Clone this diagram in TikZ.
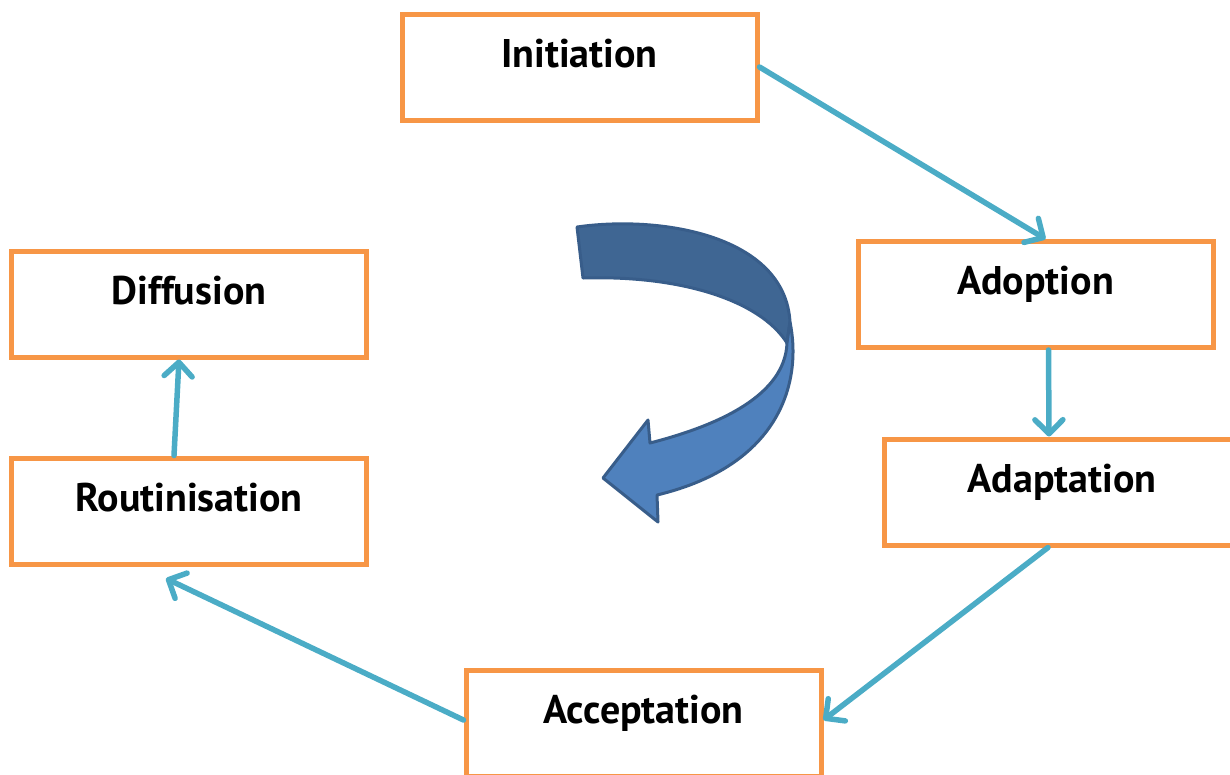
\documentclass[tikz,border=0pt]{standalone}
\usepackage{fontspec}
\setmainfont{PT Sans}
\usetikzlibrary{arrows.meta,calc}
\definecolor{boxorange}{HTML}{F79646}
\definecolor{linkcyan}{HTML}{4BACC6}
\definecolor{bandtop}{HTML}{3F6693}
\definecolor{bandlow}{HTML}{4F81BD}
\definecolor{bandline}{HTML}{385D8A}
\tikzset{
  stagebox/.style={draw=boxorange, line width=5pt, rectangle, minimum width=355pt, minimum height=106pt,
    inner sep=0pt, text height=0pt, text depth=0pt, font=\fontsize{40}{48}\selectfont\bfseries},
  link/.style={draw=linkcyan, line width=5.5pt, line cap=round,
    -{Straight Barb[length=14pt,width=28pt,round]}},
  band/.style={draw=bandline, line width=3pt, line join=round}
}
\begin{document}
\begin{tikzpicture}[x=1pt,y=-1pt]
\useasboundingbox (0,0) rectangle (1230,774);
\node[stagebox] (init)  at (579.5,67)  {Initiation};
\node[stagebox] (adopt) at (1035.5,294.5) {Adoption};
\node[stagebox] (adapt) at (1062,492) {Adaptation};
\node[stagebox] (diff)  at (189,304) {Diffusion};
\node[stagebox] (rout)  at (189,511) {Routinisation};
\node[stagebox] (acc)   at (643.5,723) {Acceptation};

\coordinate (adoptin) at ($(adopt.north)+(10,0)$);
\coordinate (adoptout) at ($(adopt.south)+(13,0)$);
\coordinate (adaptin) at ($(adapt.north)+(-13,0)$);
\coordinate (adaptout) at ($(adapt.south)+(-14,0)$);
\coordinate (accin) at ($(acc.east)+(0,-3)$);
\coordinate (accout) at ($(acc.west)+(0,-3)$);
\coordinate (routin) at ($(rout.south)+(-23,12)$);
\coordinate (routout) at ($(rout.north)+(-15,0)$);
\coordinate (diffin) at ($(diff.south)+(-10,0)$);

\draw[link] (init.east) -- (adoptin);
\draw[link] (adoptout) -- (adaptin);
\draw[link] (adaptout) -- (accin);
\draw[link] (accout) -- (routin);
\draw[link] (routout) -- (diffin);

% curved arrow
\path[band, fill=bandtop] (577,227) .. controls (660,215) and (785,235) .. (790,322)
  -- (787,343) .. controls (760,300) and (680,275) .. (583,278) -- cycle;
\path[band, fill=bandlow] (790,322) .. controls (802,380) and (782,465) .. (657,495)
  -- (658,522) -- (603,478) -- (648,420) -- (650,443)
  .. controls (720,425) and (785,395) .. (787,343) -- cycle;
\end{tikzpicture}
\end{document}
